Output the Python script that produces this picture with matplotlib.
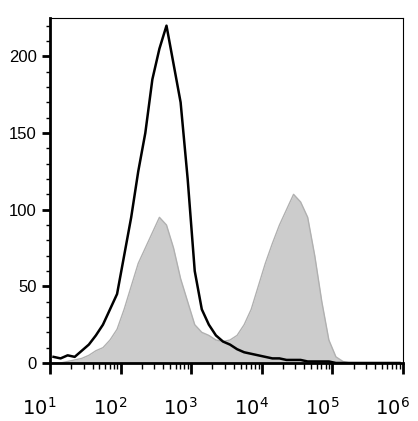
import matplotlib
matplotlib.use("Agg")
import matplotlib.pyplot as plt
import numpy as np
plt.rcParams['font.family'] = ['Liberation Sans', 'DejaVu Sans']

# bin centres in log10 units, 0.1 decade steps from 1.05 to 5.95
log_bins = [1.05 + 0.1 * i for i in range(50)]
black_counts = [4, 3, 5, 4, 8, 12, 18, 25, 35, 45,
                70, 95, 125, 150, 185, 205, 220, 195, 170, 120,
                60, 35, 25, 18, 14, 12, 9, 7, 6, 5,
                4, 3, 3, 2, 2, 2, 1, 1, 1, 1,
                0, 0, 0, 0, 0, 0, 0, 0, 0, 0]
gray_counts = [0, 0, 1, 2, 3, 5, 8, 10, 15, 22,
               35, 50, 65, 75, 85, 95, 90, 75, 55, 40,
               25, 20, 18, 15, 14, 15, 18, 25, 35, 50,
               65, 78, 90, 100, 110, 105, 95, 70, 40, 15,
               4, 1, 0, 0, 0, 0, 0, 0, 0, 0]

fig = plt.figure(figsize=(4.18, 4.21), dpi=100)
ax = fig.add_axes([50/418, 1 - 363/421, 353/418, 345/421])
x = np.array(log_bins)
ax.fill_between(x, gray_counts, color="#cccccc", lw=0)
ax.plot(x, gray_counts, color="#b0b0b0", lw=1)
ax.plot(x, black_counts, color="black", lw=1.8)
ax.set_xlim(1, 6)
ax.set_ylim(0, 225)
ax.set_yticks([0, 50, 100, 150, 200])
ax.set_yticks(range(0, 226, 10), minor=True)
ax.tick_params(axis="y", direction="out", length=6, width=2, labelsize=12)
ax.tick_params(axis="y", which="minor", length=3, width=1)
ax.set_xticks([1, 2, 3, 4, 5, 6])
ax.set_xticklabels([])
minor = [d + np.log10(k) for d in range(1, 6) for k in range(2, 10)]
ax.set_xticks(minor, minor=True)
ax.tick_params(axis="x", direction="out", length=8, width=2, pad=2)
ax.tick_params(axis="x", which="minor", direction="out", length=4, width=1)
for d in range(1, 7):
    ax.text(d - 0.15, -0.13, f"$10^{{{d}}}$", transform=ax.get_xaxis_transform(),
            ha="center", va="center", fontsize=14)
for s in ["left", "bottom"]:
    ax.spines[s].set_linewidth(2)
for s in ["top", "right"]:
    ax.spines[s].set_linewidth(0.8)
fig.savefig("out.png", dpi=100)
